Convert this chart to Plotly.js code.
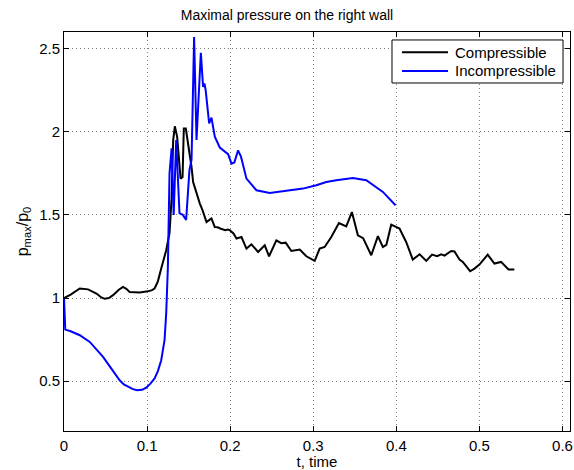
<!DOCTYPE html>
<html>
<head>
<meta charset="utf-8">
<script src="https://cdn.plot.ly/plotly-3.0.1.min.js"></script>
<style>html,body{margin:0;padding:0;background:#fff;}#chart{width:574px;height:470px;}</style>
</head>
<body>
<div id="chart"></div>
<script>
const compT = [0, 0.008, 0.019, 0.029, 0.039, 0.045, 0.049, 0.054, 0.059, 0.066, 0.071, 0.075, 0.079, 0.085, 0.091, 0.101, 0.106, 0.109, 0.113, 0.117, 0.121, 0.123, 0.127, 0.1295, 0.1314, 0.1334, 0.1362, 0.1386, 0.1403, 0.1427, 0.1442, 0.1466, 0.1494, 0.1535, 0.1554, 0.1602, 0.1635, 0.1667, 0.1715, 0.175, 0.1775, 0.1815, 0.185, 0.188, 0.191, 0.194, 0.197, 0.1995, 0.204, 0.2076, 0.2136, 0.2196, 0.2256, 0.2336, 0.2416, 0.2468, 0.2556, 0.2615, 0.2668, 0.2736, 0.2837, 0.2917, 0.3017, 0.3077, 0.3137, 0.3217, 0.3309, 0.3397, 0.3465, 0.3537, 0.36, 0.3698, 0.3778, 0.3838, 0.388, 0.3938, 0.4038, 0.4118, 0.4198, 0.428, 0.436, 0.443, 0.449, 0.454, 0.458, 0.466, 0.47, 0.476, 0.48, 0.4888, 0.494, 0.5, 0.51, 0.518, 0.526, 0.535, 0.542];
const compP = [1.0, 1.02, 1.057, 1.052, 1.027, 1.003, 0.995, 1.0, 1.017, 1.05, 1.067, 1.055, 1.036, 1.035, 1.033, 1.04, 1.047, 1.057, 1.10, 1.177, 1.257, 1.287, 1.39, 1.60, 1.95, 2.033, 1.969, 1.788, 1.718, 1.728, 2.019, 2.019, 1.929, 1.788, 1.698, 1.618, 1.568, 1.528, 1.457, 1.47, 1.478, 1.427, 1.425, 1.418, 1.412, 1.408, 1.412, 1.408, 1.388, 1.358, 1.367, 1.297, 1.323, 1.277, 1.317, 1.251, 1.347, 1.33, 1.333, 1.283, 1.291, 1.251, 1.223, 1.297, 1.307, 1.367, 1.451, 1.431, 1.517, 1.377, 1.36, 1.257, 1.372, 1.307, 1.32, 1.441, 1.418, 1.337, 1.231, 1.263, 1.223, 1.261, 1.251, 1.263, 1.255, 1.283, 1.28, 1.231, 1.217, 1.161, 1.177, 1.201, 1.261, 1.207, 1.217, 1.171, 1.171];

const incT = [0, 0.0015, 0.008, 0.019, 0.031, 0.039, 0.047, 0.057, 0.067, 0.072, 0.077, 0.083, 0.088, 0.094, 0.099, 0.104, 0.109, 0.113, 0.117, 0.119, 0.121, 0.123, 0.125, 0.127, 0.1295, 0.132, 0.135, 0.139, 0.143, 0.147, 0.151, 0.1535, 0.1566, 0.1595, 0.1647, 0.1674, 0.169, 0.1705, 0.1747, 0.1775, 0.1815, 0.1875, 0.1975, 0.2016, 0.205, 0.2095, 0.213, 0.2196, 0.2316, 0.2476, 0.2676, 0.2876, 0.3037, 0.3157, 0.3277, 0.3477, 0.3638, 0.3838, 0.399];
const incP = [1.0, 0.81, 0.80, 0.776, 0.736, 0.69, 0.646, 0.575, 0.505, 0.48, 0.465, 0.452, 0.445, 0.448, 0.461, 0.485, 0.516, 0.56, 0.626, 0.68, 0.746, 0.906, 1.18, 1.75, 1.9, 1.5, 1.95, 1.51, 1.50, 1.47, 1.77, 1.83, 2.57, 1.95, 2.475, 2.27, 2.29, 2.25, 2.05, 2.085, 1.97, 1.905, 1.865, 1.808, 1.815, 1.888, 1.85, 1.718, 1.648, 1.632, 1.644, 1.658, 1.678, 1.698, 1.708, 1.722, 1.708, 1.638, 1.558];

const seriesNames = ['Compressible', 'Incompressible'];
const seriesColors = ['#000000', '#0000ff'];

const xTicks = [0, 0.1, 0.2, 0.3, 0.4, 0.5, 0.6];
const xTickText = ['0', '0.1', '0.2', '0.3', '0.4', '0.5', '0.6'];
const yTicks = [0.5, 1, 1.5, 2, 2.5];
const yTickText = ['0.5', '1', '1.5', '2', '2.5'];

const font = 'Liberation Sans, Arial, Helvetica, sans-serif';

const traces = [
  {x: compT, y: compP, type: 'scatter', mode: 'lines', name: seriesNames[0],
   line: {color: seriesColors[0], width: 2}},
  {x: incT, y: incP, type: 'scatter', mode: 'lines', name: seriesNames[1],
   line: {color: seriesColors[1], width: 2}}
];

const axisCommon = {
  showline: true, linecolor: '#000', linewidth: 1, mirror: 'ticks',
  ticks: 'inside', ticklen: 5, tickcolor: '#000', tickwidth: 1,
  showgrid: true, gridcolor: '#808080', gridwidth: 1, griddash: '1px,3px',
  zeroline: false, tickfont: {family: font, size: 15, color: '#000'}
};

// legend drawn in paper coordinates of the plot area
const legBox = {x0: 0.6482, x1: 0.9862, y0: 0.8722, y1: 0.98};
const legRows = [0.9491, 0.9023];
const shapes = [
  {type: 'rect', xref: 'paper', yref: 'paper', x0: legBox.x0, x1: legBox.x1, y0: legBox.y0, y1: legBox.y1,
   line: {color: '#000', width: 1}, fillcolor: '#fff', layer: 'above'}
];
const annotations = [];
seriesNames.forEach((n, i) => {
  shapes.push({type: 'line', xref: 'paper', yref: 'paper', x0: 0.668, x1: 0.7589, y0: legRows[i], y1: legRows[i],
               line: {color: seriesColors[i], width: 2}, layer: 'above'});
  annotations.push({xref: 'paper', yref: 'paper', x: 0.7688, y: legRows[i], xanchor: 'left', yanchor: 'middle',
                    text: n, showarrow: false, font: {family: font, size: 15, color: '#000'}});
});

const layout = {
  width: 574, height: 470,
  margin: {l: 64, r: 4, t: 32, b: 39},
  paper_bgcolor: '#fff', plot_bgcolor: '#fff',
  font: {family: font, size: 14, color: '#000'},
  title: {text: 'Maximal pressure on the right wall', x: 0.5, xref: 'container', xanchor: 'center',
          y: 0.967, yref: 'container', yanchor: 'middle',
          font: {family: font, size: 14, color: '#000'}},
  xaxis: Object.assign({}, axisCommon, {
    range: [0, 0.609], tickvals: xTicks, ticktext: xTickText, ticklabelstandoff: 1,
    title: {text: 't, time', standoff: 3, font: {family: font, size: 15, color: '#000'}}
  }),
  yaxis: Object.assign({}, axisCommon, {
    range: [0.2, 2.6], tickvals: yTicks, ticktext: yTickText,
    title: {text: 'p<sub>max</sub>/p<sub>0</sub>', standoff: 6, font: {family: font, size: 16, color: '#000'}}
  }),
  showlegend: false,
  shapes: shapes,
  annotations: annotations
};

Plotly.newPlot('chart', traces, layout, {displayModeBar: false, staticPlot: true});
</script>
</body>
</html>
